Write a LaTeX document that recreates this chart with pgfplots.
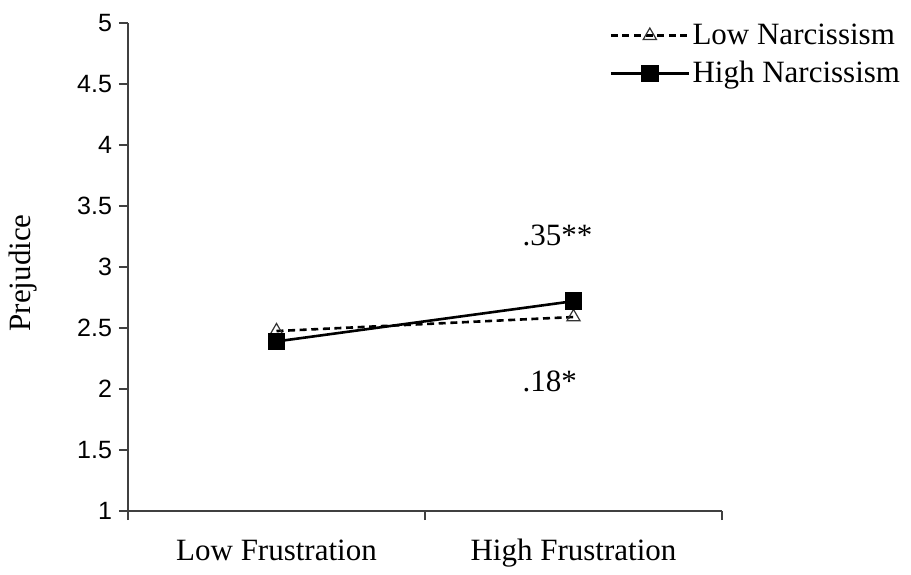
\documentclass[border=0pt]{standalone}
\usepackage{pgfplots}
\pgfplotsset{compat=1.18}
\usepackage{fontspec}
\setmainfont{Liberation Serif}
\newfontfamily\arialfont{Liberation Sans}
\begin{document}
\begin{tikzpicture}
\begin{axis}[
  scale only axis, width=297pt, height=244pt,
  at={(0,0)}, anchor=south west,
  xmin=-0.5, xmax=1.5, ymin=1, ymax=5,
  axis lines=left,
  axis line style={-, black!75, line width=0.7pt},
  tick style={black!75, line width=0.7pt},
  tick align=outside,
  major tick length=4.5pt,
  xtick={-0.5,0.5,1.5}, xticklabels={,,},
  extra x ticks={0,1},
  extra x tick labels={Low Frustration, High Frustration},
  extra x tick style={major tick length=0pt, tick label style={yshift=-10pt, text height=11pt, text depth=3pt}},
  xticklabel style={font=\fontsize{15.5}{18}\selectfont},
  ytick={1,1.5,2,2.5,3,3.5,4,4.5,5},
  yticklabel style={font=\arialfont\fontsize{12.5}{15}\selectfont, /pgf/number format/assume math mode=true},
  ylabel={Prejudice},
  ylabel style={at={(axis description cs:-0.177,0.488)}, anchor=center, font=\fontsize{15.5}{18}\selectfont},
  legend cell align=left,
  legend style={draw=none, fill=none, at={(axis description cs:0.81,1.004)}, anchor=north west,
    font=\fontsize{15.5}{18}\selectfont, row sep=4.5pt, inner sep=0pt,
    nodes={inner sep=1.2pt}},
]
\addplot[black, line width=1.3pt, dash pattern=on 3.5pt off 2.3pt,
  mark=triangle, mark size=3.8pt, mark options={solid, fill=white, line width=0.6pt, draw=black!80},
  legend image code/.code={\draw[mark repeat=2,mark phase=2] plot coordinates {(0pt,0pt)(19.5pt,0pt)(39pt,0pt)};}]
  coordinates {(0,2.475) (1,2.59)};
\addlegendentry{Low Narcissism}
\addplot[black, line width=1.3pt,
  mark=square*, mark size=3.75pt, mark options={solid, fill=black},
  legend image code/.code={\draw[mark repeat=2,mark phase=2] plot coordinates {(0pt,0pt)(19.5pt,0pt)(39pt,0pt)};}]
  coordinates {(0,2.39) (1,2.72)};
\addlegendentry{High Narcissism}
\node[anchor=west, font=\fontsize{15.5}{18}\selectfont, inner sep=0pt] at (axis cs:0.827,3.26) {.35**};
\node[anchor=west, font=\fontsize{15.5}{18}\selectfont, inner sep=0pt] at (axis cs:0.827,2.06) {.18*};
\end{axis}
\pgfresetboundingbox
\path[use as bounding box] (-64pt,-31.5pt) rectangle (391.5pt,255.5pt);
\end{tikzpicture}
\end{document}
